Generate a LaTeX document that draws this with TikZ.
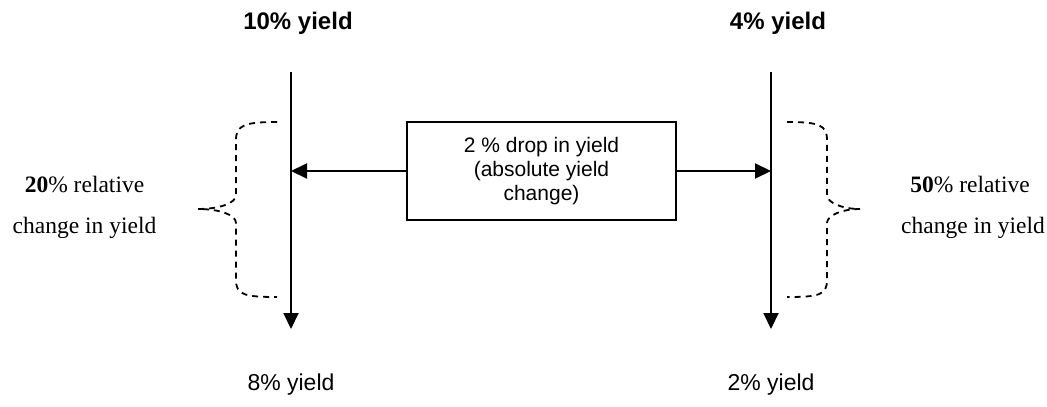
\documentclass[tikz,border=0pt]{standalone}
\usepackage{fontspec}
\setmainfont{Liberation Serif}
\setsansfont{Liberation Sans}
\usetikzlibrary{arrows.meta}
\tikzset{
  axisline/.style={line width=2pt,-{Triangle[length=16pt,width=15pt]}},
  shiftarrow/.style={line width=2pt,-{Triangle[length=16pt,width=15pt]}},
  brace/.style={line width=1.8pt,dash pattern=on 6pt off 5pt},
  toplabel/.style={anchor=base,font=\sffamily\bfseries\fontsize{24}{28}\selectfont},
  botlabel/.style={anchor=base,font=\sffamily\fontsize{23}{27}\selectfont},
  relabel/.style={anchor=base,font=\rmfamily\fontsize{23.5}{27}\selectfont},
  boxnode/.style={draw,line width=1.8pt,minimum width=269pt,minimum height=98pt,align=center,inner sep=0pt,
    font=\sffamily\fontsize{21}{24}\selectfont}
}
\begin{document}
\begin{tikzpicture}[x=1pt,y=-1pt]
\useasboundingbox (0,0) rectangle (1047,407);
% vertical lines
\coordinate (Ltop) at (291,72);
\coordinate (Lbot) at (291,329);
\coordinate (Rtop) at (771,72);
\coordinate (Rbot) at (771,329);
\draw[axisline] (Ltop) -- (Lbot);
\draw[axisline] (Rtop) -- (Rbot);
% labels
\node[toplabel] (t1) at (298,29) {10\% yield};
\node[toplabel] (t2) at (778,29) {4\% yield};
\node[botlabel] (b1) at (291,390) {8\% yield};
\node[botlabel] (b2) at (771,390) {2\% yield};
% box
\node[boxnode] (box) at (541.5,171) {2 \% drop in yield\\(absolute yield\\change)};
\draw[shiftarrow] (box.west) -- (box.west -| Ltop);
\draw[shiftarrow] (box.east) -- (box.east -| Rtop);
% braces
\draw[brace] (277,122) .. controls (245,122) and (236,125) .. (236,140) -- (236,195)
  .. controls (236,203) and (220,209) .. (198,209)
  .. controls (220,209) and (236,215) .. (236,223) -- (236,280)
  .. controls (236,295) and (245,297) .. (277,297);
\draw[brace] (787,122) .. controls (819,122) and (827,125) .. (827,140) -- (827,195)
  .. controls (827,203) and (843,209) .. (860,209)
  .. controls (843,209) and (827,215) .. (827,223) -- (827,280)
  .. controls (827,295) and (819,297) .. (787,297);
% relative change labels
\node[relabel] (l1) at (84.5,192) {\textbf{20}\% relative};
\node[relabel] (l2) at (84.5,233) {change in yield};
\node[relabel] (r1) at (970,192) {\textbf{50}\% relative};
\node[relabel] (r2) at (973,233) {change in yield};
\end{tikzpicture}
\end{document}
